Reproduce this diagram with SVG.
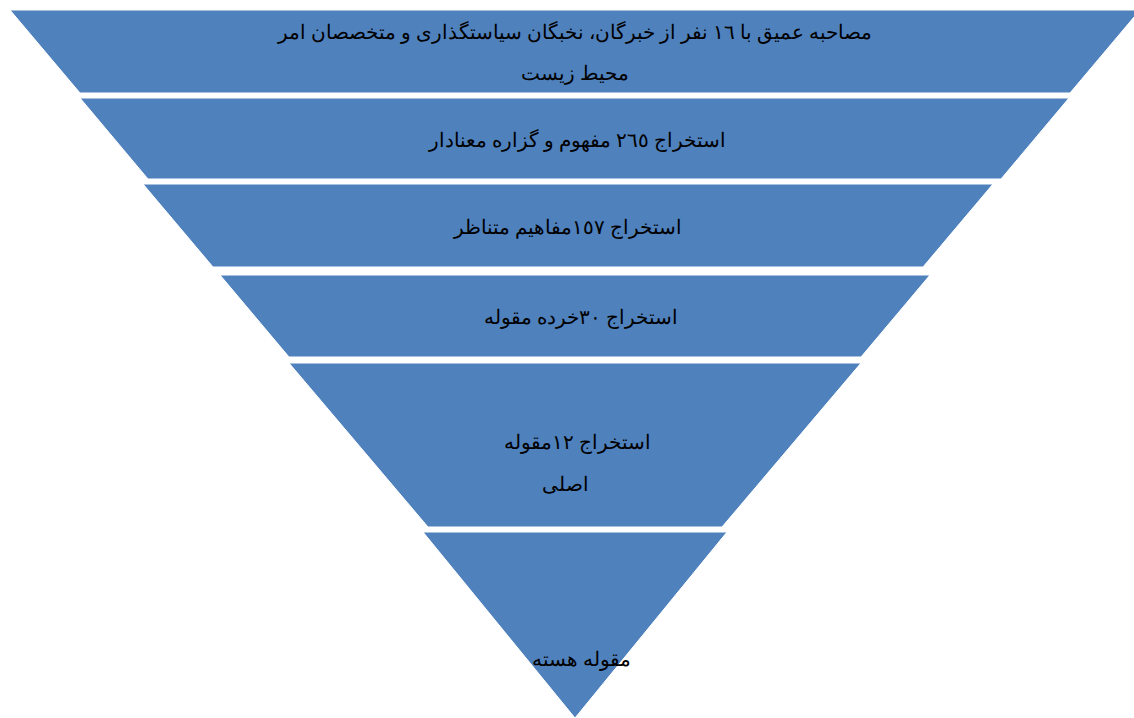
<svg xmlns="http://www.w3.org/2000/svg" width="1134" height="718" viewBox="0 0 1134 718">
<style>
.band{fill:#4f81bd;stroke:#ffffff;stroke-width:1}
.t{font-family:"Liberation Serif","DejaVu Serif",serif;font-size:20px;fill:#000;text-anchor:middle;direction:rtl}
</style>
<rect width="1134" height="718" fill="#ffffff"/>
<g id="band1">
<polygon class="band" points="10,10 1140,10 1070,93 80,93"/>
<text class="t" x="575" y="39">مصاحبه عمیق با ١٦ نفر از خبرگان، نخبگان سیاستگذاری و متخصصان امر</text>
<text class="t" x="575" y="80">محیط زیست</text>
</g>
<g id="band2">
<polygon class="band" points="80,98 1069,98 1001,179 148,179"/>
<text class="t" x="577" y="147">استخراج ٢٦٥ مفهوم و گزاره معنادار</text>
</g>
<g id="band3">
<polygon class="band" points="143,184 993,184 923,267 213,267"/>
<text class="t" x="568" y="234">استخراج ١٥٧مفاهیم متناظر</text>
</g>
<g id="band4">
<polygon class="band" points="220,275 930,275 861,357 289,357"/>
<text class="t" x="581" y="324">استخراج ٣٠خرده مقوله</text>
</g>
<g id="band5">
<polygon class="band" points="289,363 861,363 722,527 428,527"/>
<text class="t" x="577" y="449">استخراج ١٢مقوله</text>
<text class="t" x="565" y="491">اصلی</text>
</g>
<g id="band6">
<polygon class="band" points="423,532 727,532 575,718"/>
<text class="t" x="581" y="666">مقوله هسته</text>
</g>
<g id="connectors"/>
</svg>
